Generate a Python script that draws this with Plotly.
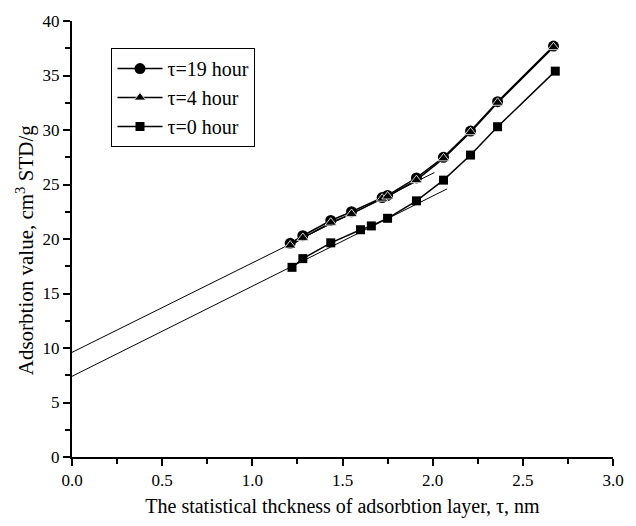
import plotly.graph_objects as go

# data
x19 = [1.21, 1.28, 1.435, 1.55, 1.72, 1.75, 1.91, 2.06, 2.21, 2.36, 2.67]
y19 = [19.6, 20.3, 21.7, 22.5, 23.8, 24.0, 25.6, 27.5, 29.9, 32.6, 37.7]
x4 = [1.21, 1.28, 1.435, 1.55, 1.72, 1.75, 1.91, 2.06, 2.21, 2.36, 2.67]
y4 = [19.4, 20.1, 21.5, 22.3, 23.7, 23.9, 25.4, 27.4, 29.8, 32.5, 37.6]
x0 = [1.22, 1.28, 1.435, 1.60, 1.66, 1.75, 1.91, 2.06, 2.21, 2.36, 2.68]
y0 = [17.4, 18.2, 19.65, 20.85, 21.2, 21.9, 23.5, 25.4, 27.7, 30.3, 35.4]
fit_hi_x = [0.0, 2.01]
fit_hi_y = [9.6, 26.1]
fit_lo_x = [0.0, 2.08]
fit_lo_y = [7.4, 24.6]

FONT = "Liberation Serif, Times New Roman, serif"

fig = go.Figure()
fig.add_trace(go.Scatter(x=fit_hi_x, y=fit_hi_y, mode="lines",
                         line=dict(color="black", width=1), showlegend=False))
fig.add_trace(go.Scatter(x=fit_lo_x, y=fit_lo_y, mode="lines",
                         line=dict(color="black", width=1), showlegend=False))
fig.add_trace(go.Scatter(x=x19, y=y19, mode="lines+markers", name="τ=19 hour",
                         line=dict(color="black", width=1.5),
                         marker=dict(symbol="circle", size=11, color="black")))
fig.add_trace(go.Scatter(x=x4, y=y4, mode="lines+markers", name="τ=4 hour",
                         line=dict(color="black", width=1.5),
                         marker=dict(symbol="triangle-up", size=10, color="black",
                                     line=dict(color="white", width=0.8))))
fig.add_trace(go.Scatter(x=x0, y=y0, mode="lines+markers", name="τ=0 hour",
                         line=dict(color="black", width=1.5),
                         marker=dict(symbol="square", size=9, color="black")))

axis_common = dict(showline=True, linecolor="black", linewidth=2, ticks="outside",
                   ticklen=7, tickwidth=2, tickcolor="black", showgrid=False,
                   zeroline=False, tickfont=dict(family=FONT, size=17, color="black"))

fig.update_xaxes(range=[0, 3.0], dtick=0.5, tickformat=".1f",
                 minor=dict(dtick=0.25, ticks="outside", ticklen=5, tickwidth=2, tickcolor="black"),
                 title=dict(text="The statistical thckness of adsorbtion layer, τ, nm",
                            font=dict(family=FONT, size=20, color="black"), standoff=10),
                 **axis_common)
fig.update_yaxes(range=[0, 40], dtick=5,
                 minor=dict(dtick=2.5, ticks="outside", ticklen=5, tickwidth=2, tickcolor="black"),
                 **axis_common)

fig.add_annotation(text="Adsorbtion value, cm<sup>3</sup> STD/g",
                   xref="paper", yref="paper", x=-0.087, y=0.474,
                   xanchor="center", yanchor="middle", textangle=-90, showarrow=False,
                   font=dict(family=FONT, size=21, color="black"))

fig.update_layout(
    width=636, height=526,
    margin=dict(l=72, r=13, t=18, b=63),
    paper_bgcolor="white", plot_bgcolor="white",
    font=dict(family=FONT, color="black"),
    legend=dict(x=0.073, y=0.938, xanchor="left", yanchor="top",
                bordercolor="black", borderwidth=1, bgcolor="white",
                font=dict(family=FONT, size=20, color="black"),
                tracegroupgap=0, itemwidth=45),
)

fig.write_html("out.html")
